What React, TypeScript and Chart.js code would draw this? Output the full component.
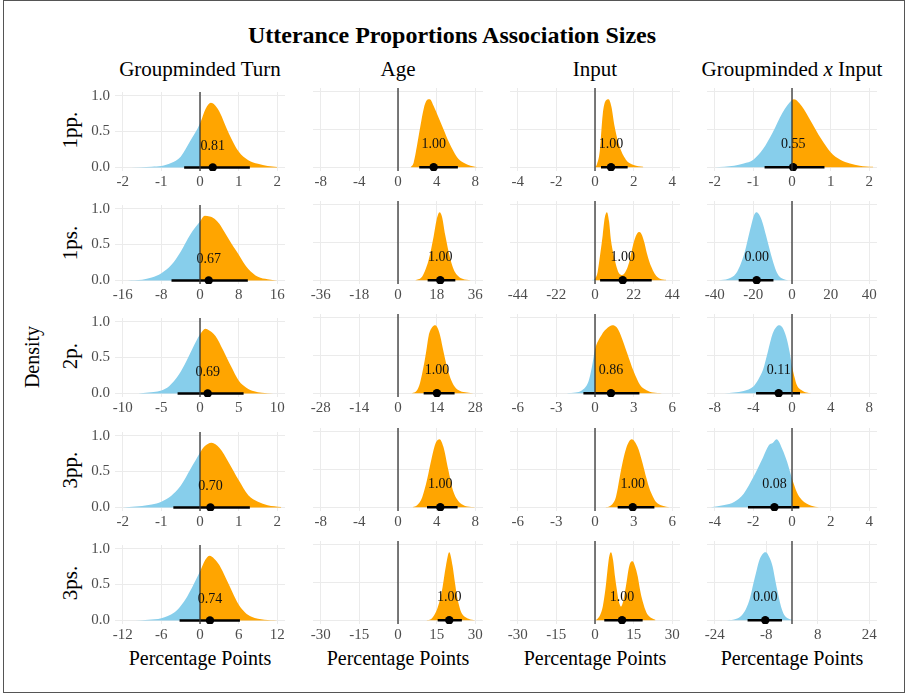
import React, { useEffect, useRef } from 'react';
import { Chart, registerables } from 'chart.js';

Chart.register(...registerables);

const SERIF = "'Liberation Serif', 'Times New Roman', serif";
Chart.defaults.font.family = 'Liberation Serif';

// facet labels
const ROWS = ['1pp.', '1ps.', '2p.', '3pp.', '3ps.'];
const COLUMNS = ['Groupminded Turn', 'Age', 'Input', 'Groupminded x Input'];

// x-axis tick labels, one list per panel [row][column]
const X_TICKS = [
  [[-2, -1, 0, 1, 2], [-8, -4, 0, 4, 8], [-4, -2, 0, 2, 4], [-2, -1, 0, 1, 2]],
  [[-16, -8, 0, 8, 16], [-36, -18, 0, 18, 36], [-44, -22, 0, 22, 44], [-40, -20, 0, 20, 40]],
  [[-10, -5, 0, 5, 10], [-28, -14, 0, 14, 28], [-6, -3, 0, 3, 6], [-8, -4, 0, 4, 8]],
  [[-2, -1, 0, 1, 2], [-8, -4, 0, 4, 8], [-6, -3, 0, 3, 6], [-4, -2, 0, 2, 4]],
  [[-12, -6, 0, 6, 12], [-30, -15, 0, 15, 30], [-30, -15, 0, 15, 30], [-24, -8, 8, 24]],
];
const Y_TICKS = [0, 0.5, 1];

// posterior densities: [x, height]
const turn1pp = [[-1.8, 0], [-1.25, 0.01], [-1, 0.02], [-0.75, 0.06], [-0.5, 0.15], [-0.25, 0.37], [0, 0.61], [0.15, 0.82], [0.28, 0.9], [0.4, 0.86], [0.5, 0.78], [0.75, 0.47], [1, 0.22], [1.25, 0.1], [1.5, 0.05], [1.75, 0.02], [2, 0.005]];
const age1pp = [[1.3, 0], [1.62, 0.06], [1.96, 0.28], [2.31, 0.54], [2.65, 0.77], [3, 0.89], [3.3, 0.9], [3.69, 0.81], [4.2, 0.66], [4.72, 0.5], [5.24, 0.34], [5.76, 0.21], [6.27, 0.11], [6.8, 0.06], [7.5, 0.02], [8.2, 0]];
const input1pp = [[0, 0], [0.1, 0.04], [0.25, 0.22], [0.4, 0.7], [0.55, 0.88], [0.7, 0.9], [0.85, 0.8], [1, 0.56], [1.25, 0.29], [1.6, 0.1], [2, 0.03], [2.5, 0.005]];
const gmInput1pp = [[-2, 0], [-1.5, 0.02], [-1.25, 0.05], [-1, 0.1], [-0.75, 0.24], [-0.5, 0.46], [-0.25, 0.72], [0, 0.89], [0.05, 0.9], [0.25, 0.81], [0.5, 0.6], [0.75, 0.38], [1, 0.2], [1.25, 0.1], [1.5, 0.05], [1.75, 0.02], [2.1, 0.005]];

const turn1ps = [[-15, 0], [-12, 0.01], [-10, 0.04], [-8, 0.1], [-6, 0.21], [-4, 0.4], [-2, 0.64], [0, 0.82], [1, 0.9], [2, 0.89], [3, 0.86], [4, 0.79], [5, 0.68], [6, 0.57], [7, 0.46], [8, 0.36], [9, 0.25], [10, 0.16], [12, 0.05], [14, 0.015], [16, 0]];
const age1ps = [[8, 0], [11, 0.04], [12.5, 0.12], [14.3, 0.27], [16.6, 0.58], [18, 0.8], [19.4, 0.9], [20.5, 0.84], [22, 0.6], [24.4, 0.28], [26, 0.14], [27.5, 0.07], [30, 0.02], [34, 0]];
const input1ps = [[-2, 0], [0, 0.02], [1.5, 0.11], [3, 0.35], [4.4, 0.6], [5.5, 0.82], [6.8, 0.9], [8, 0.78], [9.1, 0.53], [10.5, 0.35], [12, 0.2], [13.5, 0.1], [15.4, 0.07], [17, 0.1], [18.5, 0.17], [19.6, 0.25], [21, 0.4], [22.4, 0.53], [24, 0.62], [25.3, 0.64], [26.5, 0.61], [28.1, 0.5], [29.5, 0.36], [31, 0.24], [33, 0.13], [34.8, 0.06], [37, 0.02], [40.4, 0.005]];
const gmInput1ps = [[-38, 0], [-33, 0.02], [-29, 0.09], [-26.5, 0.22], [-24.6, 0.36], [-22.8, 0.55], [-21.2, 0.72], [-19.5, 0.87], [-18.3, 0.9], [-16.8, 0.86], [-15.2, 0.76], [-13.5, 0.6], [-11.7, 0.42], [-10, 0.26], [-8.3, 0.13], [-6.5, 0.05], [-4.8, 0.02], [-2, 0]];

const turn2p = [[-8, 0], [-6, 0.02], [-5, 0.04], [-4, 0.1], [-3, 0.22], [-2, 0.4], [-1, 0.62], [0, 0.82], [0.7, 0.9], [1, 0.89], [2, 0.8], [3, 0.6], [4, 0.38], [5, 0.18], [6, 0.08], [7, 0.03], [8, 0.01], [9.5, 0]];
const age2p = [[5, 0], [6.9, 0.04], [8, 0.14], [9.3, 0.36], [10.2, 0.55], [11.1, 0.76], [12.3, 0.87], [13.5, 0.9], [14.4, 0.86], [15.3, 0.76], [16.5, 0.55], [17.7, 0.36], [19, 0.2], [20.5, 0.09], [22.5, 0.03], [25, 0.01], [27.5, 0]];
const input2p = [[-2.2, 0], [-1.5, 0.01], [-1, 0.04], [-0.5, 0.16], [-0.25, 0.34], [0, 0.58], [0.5, 0.77], [1, 0.87], [1.35, 0.9], [1.7, 0.87], [2, 0.77], [2.5, 0.53], [3, 0.29], [3.5, 0.11], [4, 0.04], [4.5, 0.01], [5.2, 0]];
const gmInput2p = [[-7, 0], [-6, 0.01], [-5, 0.03], [-4, 0.09], [-3.5, 0.18], [-3, 0.31], [-2.5, 0.55], [-2, 0.79], [-1.6, 0.88], [-1.3, 0.9], [-0.9, 0.85], [-0.5, 0.7], [-0.25, 0.55], [0, 0.36], [0.25, 0.22], [0.5, 0.11], [1, 0.04], [1.5, 0.01], [2, 0]];

const turn3pp = [[-2, 0], [-1.5, 0.02], [-1.25, 0.04], [-1, 0.08], [-0.75, 0.16], [-0.5, 0.3], [-0.25, 0.53], [0, 0.76], [0.1, 0.84], [0.3, 0.9], [0.5, 0.83], [0.75, 0.62], [1, 0.38], [1.25, 0.17], [1.5, 0.08], [1.75, 0.03], [2.1, 0.005]];
const age3pp = [[1.5, 0], [2, 0.03], [2.5, 0.13], [3, 0.36], [3.5, 0.66], [3.9, 0.85], [4.3, 0.9], [4.7, 0.8], [5.2, 0.5], [5.7, 0.22], [6.2, 0.09], [6.6, 0.04], [7.2, 0.01], [8, 0]];
const input3pp = [[0.8, 0], [1.2, 0.02], [1.63, 0.14], [2.02, 0.49], [2.4, 0.77], [2.85, 0.9], [3.3, 0.8], [3.7, 0.58], [4, 0.38], [4.22, 0.25], [4.5, 0.14], [4.74, 0.07], [5.25, 0.02], [5.8, 0]];
const gmInput3pp = [[-4.2, 0], [-3.5, 0.03], [-3, 0.07], [-2.5, 0.18], [-2, 0.4], [-1.5, 0.66], [-1.2, 0.82], [-1, 0.85], [-0.8, 0.9], [-0.5, 0.77], [-0.25, 0.6], [0, 0.38], [0.25, 0.2], [0.5, 0.1], [1, 0.02], [1.4, 0]];

const turn3ps = [[-10, 0], [-8, 0.01], [-6, 0.03], [-4, 0.11], [-3, 0.2], [-2, 0.33], [-1, 0.5], [0, 0.68], [0.8, 0.84], [1.5, 0.9], [2.2, 0.86], [3, 0.77], [4, 0.59], [5, 0.4], [6, 0.22], [7, 0.11], [8, 0.05], [10, 0.01], [12, 0]];
const age3ps = [[11, 0], [13, 0.02], [15.1, 0.14], [16.2, 0.26], [17.1, 0.4], [18.6, 0.72], [19.9, 0.9], [21.2, 0.72], [22.1, 0.5], [22.9, 0.32], [24, 0.16], [24.8, 0.09], [27.4, 0.02], [30, 0]];
const input3ps = [[0, 0], [1, 0.02], [2, 0.07], [3, 0.18], [4, 0.4], [4.8, 0.65], [5.5, 0.84], [6.2, 0.9], [7, 0.8], [7.8, 0.57], [8.5, 0.4], [9.1, 0.27], [10.1, 0.18], [11, 0.26], [12, 0.45], [13.3, 0.72], [14.6, 0.78], [15.5, 0.72], [16.6, 0.58], [17.5, 0.4], [18.5, 0.25], [20, 0.1], [21.1, 0.05], [23.5, 0.005]];
const gmInput3ps = [[-21, 0], [-18, 0.01], [-16, 0.05], [-14.3, 0.15], [-13, 0.3], [-12.2, 0.45], [-11, 0.66], [-10.1, 0.8], [-8.8, 0.89], [-8.1, 0.9], [-7, 0.83], [-6, 0.71], [-5.2, 0.53], [-4.4, 0.36], [-3.4, 0.18], [-2.4, 0.07], [-1, 0.02], [0, 0.005]];

const DENSITY = [
  [turn1pp, age1pp, input1pp, gmInput1pp],
  [turn1ps, age1ps, input1ps, gmInput1ps],
  [turn2p, age2p, input2p, gmInput2p],
  [turn3pp, age3pp, input3pp, gmInput3pp],
  [turn3ps, age3ps, input3ps, gmInput3ps],
];

// point summaries: median and 95% interval
const MEDIAN = [
  [0.33, 3.69, 0.83, 0.03],
  [1.8, 19.7, 15.8, -18.3],
  [0.99, 14.1, 1.24, -1.38],
  [0.27, 4.38, 2.93, -0.91],
  [1.55, 19.9, 10.5, -8.3],
];
const LOWER = [
  [-0.41, 2.2, 0.31, -0.71],
  [-5.9, 13.8, 2.9, -27.6],
  [-2.9, 9.3, -0.9, -3.72],
  [-0.69, 3.0, 1.76, -2.28],
  [-3.17, 15.4, 3.6, -13.8],
];
const UPPER = [
  [1.29, 6.2, 1.69, 0.84],
  [9.9, 26.7, 32.3, -9.6],
  [5.64, 20.5, 3.45, 0.83],
  [1.29, 6.17, 4.61, 0.38],
  [6.2, 24.8, 18.5, -3.1],
];
// probability of a positive effect
const PROB = [
  ['0.81', '1.00', '1.00', '0.55'],
  ['0.67', '1.00', '1.00', '0.00'],
  ['0.69', '1.00', '0.86', '0.11'],
  ['0.70', '1.00', '1.00', '0.08'],
  ['0.74', '1.00', '1.00', '0.00'],
];
const PROB_Y = 0.3;

const SKY = '#87CEEB';
const ORANGE = '#FFA500';
const GRID = '#EBEBEB';

// panel geometry
const PANEL_LEFT = [115, 313, 510, 707];
const PANEL_TOP = [88, 201, 314, 428, 541];
const PANEL_W = 170;
const PANEL_H = 83;
const PAD_L = 13;
const PAD_R = 13;
const PAD_T = 10;
const Y_AXIS_W = 40;
const X_AXIS_H = 24;

const Panel: React.FC<{ row: number; col: number }> = ({ row, col }) => {
  const canvasRef = useRef<HTMLCanvasElement>(null);
  const yW = col === 0 ? Y_AXIS_W : 0;
  const width = PAD_L + yW + PANEL_W + PAD_R;
  const height = PAD_T + PANEL_H + X_AXIS_H;

  useEffect(() => {
    if (!canvasRef.current) return;
    const ticks = X_TICKS[row][col];
    const lim = Math.max(...ticks.map((t) => Math.abs(t))) * 1.1;

    // zero reference line and probability label
    const overlay = {
      id: 'overlay',
      afterDatasetsDraw(chart: Chart) {
        const { ctx, chartArea, scales } = chart;
        const x0 = scales.x.getPixelForValue(0);
        ctx.save();
        ctx.strokeStyle = '#333';
        ctx.lineWidth = 1.3;
        ctx.beginPath();
        ctx.moveTo(x0, chartArea.top);
        ctx.lineTo(x0, chartArea.bottom);
        ctx.stroke();
        ctx.fillStyle = '#111';
        ctx.font = `14px ${SERIF}`;
        ctx.textAlign = 'center';
        ctx.textBaseline = 'middle';
        ctx.fillText(
          PROB[row][col],
          scales.x.getPixelForValue(MEDIAN[row][col]),
          scales.y.getPixelForValue(PROB_Y)
        );
        ctx.restore();
      },
    };

    const tickFont = { family: 'Liberation Serif', size: 15 };

    const chart = new Chart(canvasRef.current, {
      type: 'line',
      data: {
        datasets: [
          {
            data: DENSITY[row][col].map(([x, y]) => ({ x, y })),
            fill: 'origin',
            borderWidth: 0,
            borderColor: 'rgba(0,0,0,0)',
            backgroundColor: ORANGE,
            pointRadius: 0,
            cubicInterpolationMode: 'monotone',
            segment: {
              backgroundColor: (c: any) => (c.p0.parsed.x < 0 ? SKY : ORANGE),
            },
            order: 3,
          },
          {
            data: [
              { x: LOWER[row][col], y: 0 },
              { x: UPPER[row][col], y: 0 },
            ],
            borderColor: '#000',
            borderWidth: 2.5,
            pointRadius: 0,
            fill: false,
            order: 2,
          },
          {
            data: [{ x: MEDIAN[row][col], y: 0 }],
            showLine: false,
            pointRadius: 4.2,
            pointBackgroundColor: '#000',
            pointBorderWidth: 0,
            order: 1,
          },
        ],
      },
      options: {
        animation: false,
        responsive: false,
        events: [],
        layout: { padding: { left: PAD_L, right: PAD_R, top: PAD_T, bottom: 0 } },
        plugins: { legend: { display: false }, tooltip: { enabled: false } },
        scales: {
          x: {
            type: 'linear',
            min: -lim,
            max: lim,
            afterBuildTicks: (s: any) => {
              s.ticks = ticks.map((v) => ({ value: v }));
            },
            afterFit: (s: any) => {
              s.height = X_AXIS_H;
            },
            grid: { color: GRID, lineWidth: 1, drawTicks: false },
            border: { display: false },
            ticks: {
              padding: 2,
              autoSkip: false,
              maxRotation: 0,
              color: '#4D4D4D',
              font: tickFont,
              callback: (v: any) => String(v),
            },
          },
          y: {
            type: 'linear',
            min: -0.05,
            max: 1.05,
            afterBuildTicks: (s: any) => {
              s.ticks = Y_TICKS.map((v) => ({ value: v }));
            },
            afterFit: (s: any) => {
              s.width = yW;
            },
            grid: { color: GRID, lineWidth: 1, drawTicks: false },
            border: { display: false },
            ticks: {
              display: col === 0,
              padding: 5,
              color: '#4D4D4D',
              font: tickFont,
              callback: (v: any) => Number(v).toFixed(1),
            },
          },
        },
      } as any,
      plugins: [overlay],
    });

    return () => chart.destroy();
  }, [row, col, yW]);

  return (
    <canvas
      ref={canvasRef}
      width={width}
      height={height}
      style={{
        position: 'absolute',
        left: PANEL_LEFT[col] - PAD_L - yW,
        top: PANEL_TOP[row] - PAD_T,
        width,
        height,
      }}
    />
  );
};

const centered = (x: number, y: number, size: number, extra: React.CSSProperties = {}): React.CSSProperties => ({
  position: 'absolute',
  left: x,
  top: y,
  transform: 'translate(-50%, -50%)',
  fontFamily: SERIF,
  fontSize: size,
  lineHeight: 1,
  whiteSpace: 'nowrap',
  color: '#000',
  ...extra,
});

export default function App() {
  const colCenter = (c: number) => PANEL_LEFT[c] + PANEL_W / 2;
  const rowCenter = (r: number) => PANEL_TOP[r] + PANEL_H / 2;

  return (
    <div
      style={{
        position: 'absolute',
        left: 0,
        top: 0,
        width: 906,
        height: 693,
        background: '#fff',
        overflow: 'hidden',
      }}
    >
      <div
        style={{
          position: 'absolute',
          left: 3,
          top: 0,
          width: 902,
          height: 693,
          border: '1.6px solid #555',
          boxSizing: 'border-box',
        }}
      />
      <div style={centered(452, 34.5, 24, { fontWeight: 'bold' })}>
        Utterance Proportions Association Sizes
      </div>
      {COLUMNS.map((name, c) => (
        <div key={name} style={centered(colCenter(c), 68.5, 21)}>
          {name === 'Groupminded x Input' ? (
            <>
              Groupminded <i>x</i> Input
            </>
          ) : (
            name
          )}
        </div>
      ))}
      {ROWS.map((name, r) => (
        <div
          key={name}
          style={centered(70, rowCenter(r), 21, {
            transform: 'translate(-50%, -50%) rotate(-90deg)',
          })}
        >
          {name}
        </div>
      ))}
      <div
        style={centered(31.5, 357, 20, {
          transform: 'translate(-50%, -50%) rotate(-90deg)',
        })}
      >
        Density
      </div>
      {COLUMNS.map((name, c) => (
        <div key={'xt' + name} style={centered(colCenter(c), 657.5, 20)}>
          Percentage Points
        </div>
      ))}
      {ROWS.map((_, r) =>
        COLUMNS.map((__, c) => <Panel key={`${r}-${c}`} row={r} col={c} />)
      )}
    </div>
  );
}
